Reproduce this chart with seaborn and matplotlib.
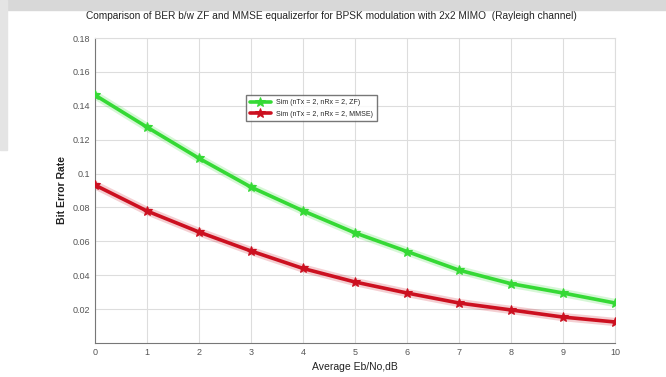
import numpy as np
import pandas as pd
import matplotlib
matplotlib.use("Agg")
import matplotlib.pyplot as plt
import seaborn as sns

# Eb/No (dB) and simulated BER for 2x2 MIMO, BPSK, Rayleigh
ebno_db = [0, 1, 2, 3, 4, 5, 6, 7, 8, 9, 10]
ber_zf = [0.1463, 0.1274, 0.1090, 0.0920, 0.0780, 0.0650, 0.0540, 0.0430, 0.0350, 0.0295, 0.0236]
ber_mmse = [0.0932, 0.0779, 0.0655, 0.0543, 0.0440, 0.0360, 0.0295, 0.0236, 0.0195, 0.0153, 0.0124]
labels = ["Sim (nTx = 2, nRx = 2, ZF)", "Sim (nTx = 2, nRx = 2, MMSE)"]
colors = ["#35d935", "#cc1020"]

df = pd.concat([
    pd.DataFrame({"ebno": ebno_db, "ber": ber_zf, "curve": labels[0]}),
    pd.DataFrame({"ebno": ebno_db, "ber": ber_mmse, "curve": labels[1]}),
])

sns.set_style("white")
plt.rcParams["font.family"] = ["Liberation Sans", "DejaVu Sans"]

fig = plt.figure(figsize=(6.66, 3.77), dpi=100)
ax = fig.add_axes([95 / 666, 1 - 343 / 377, 520 / 666, 305 / 377])

# gray screenshot frame at the top/left
fig.patches.append(plt.Rectangle((0, 1 - 10 / 377), 1, 10 / 377, transform=fig.transFigure,
                                 color="#d8d8d8", zorder=0))
fig.patches.append(plt.Rectangle((0, 1 - 150 / 377), 7 / 666, 150 / 377, transform=fig.transFigure,
                                 color="#e4e4e4", zorder=0))

# soft glow under the lines
for lab, col in zip(labels, colors):
    sub = df[df["curve"] == lab]
    ax.plot(sub["ebno"], sub["ber"], color=col, lw=6, alpha=0.2, zorder=2)

sns.lineplot(data=df, x="ebno", y="ber", hue="curve", palette=colors, hue_order=labels,
             marker="*", markersize=7.5, linewidth=2.6, ax=ax, zorder=3)
for ln in ax.get_lines():
    ln.set_markeredgecolor(ln.get_color())

ax.set_xlim(0, 10)
ax.set_ylim(0, 0.18)
ax.set_xticks(range(0, 11))
yt = np.arange(0.02, 0.181, 0.02).round(2)
ax.set_yticks(yt)
ax.set_yticklabels([f"{v:g}" for v in yt])
ax.tick_params(labelsize=6.5, colors="#555555", length=3, direction="in")
ax.grid(True, color="#dddddd", lw=0.8)
for s in ["left", "bottom"]:
    ax.spines[s].set_color("#777777")
for s in ["top", "right"]:
    ax.spines[s].set_color("#dddddd")

ax.set_title("Comparison of BER b/w ZF and MMSE equalizerfor for BPSK modulation with 2x2 MIMO  (Rayleigh channel)",
             fontsize=7.3, pad=14, color="#222222", x=0.455)
ax.set_xlabel("Average Eb/No,dB", fontsize=7.5, color="#222222")
ax.set_ylabel("Bit Error Rate", fontsize=7.5, fontweight="bold", color="#222222")

leg = ax.legend(loc="upper left", bbox_to_anchor=(148 / 520, 1 - 54 / 305), fontsize=5,
                frameon=True, fancybox=False, edgecolor="#555555", borderpad=0.5,
                handlelength=3, labelspacing=0.7)
for h in leg.legend_handles:
    h.set_markeredgecolor(h.get_color())
leg.set_title(None)

fig.savefig("out.png", dpi=100)
